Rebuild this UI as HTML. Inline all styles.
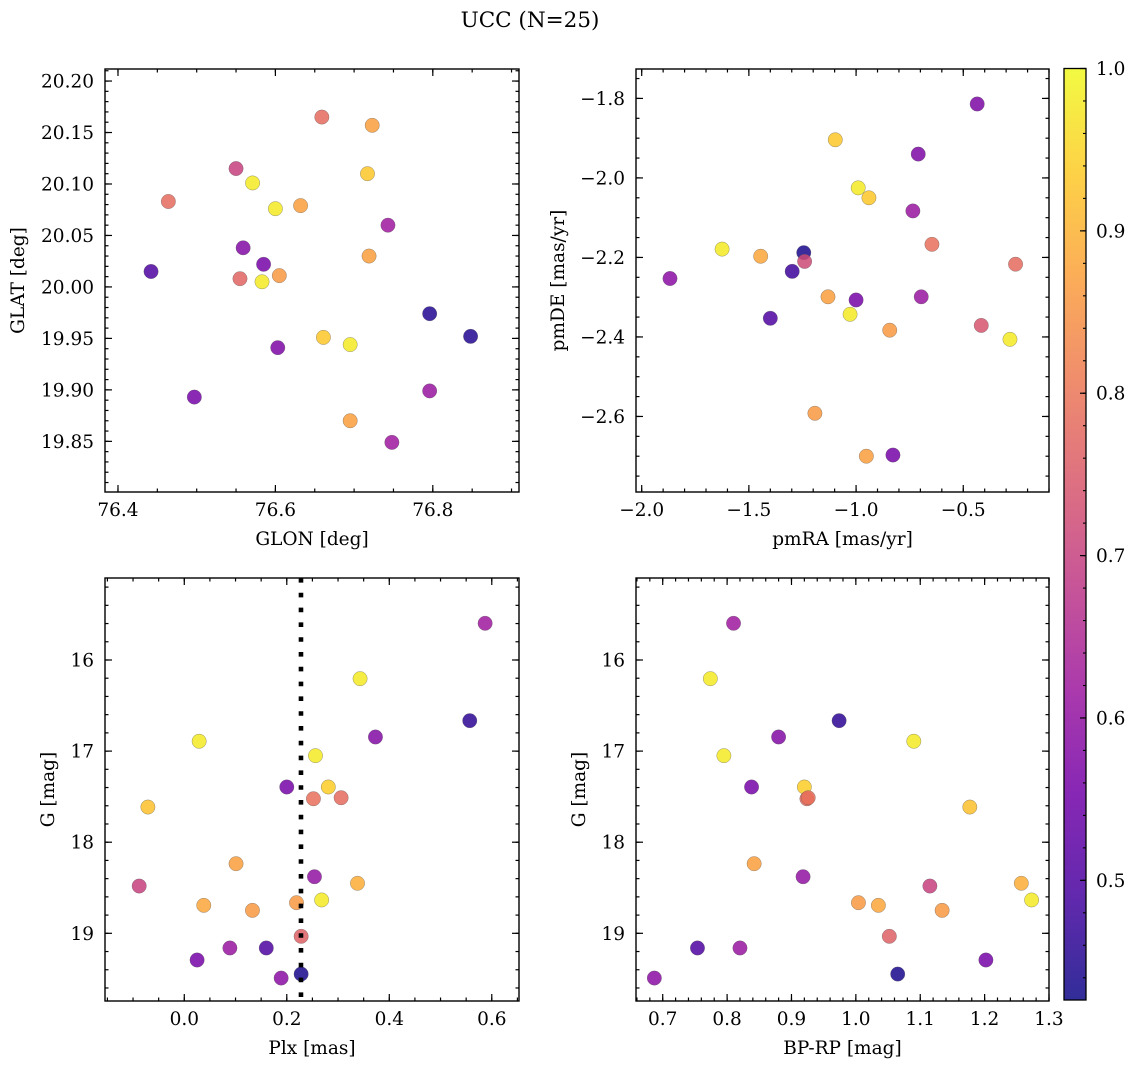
<!DOCTYPE html>
<html><head><meta charset="utf-8"><style>
html,body{margin:0;padding:0;background:#fff;}
svg{display:block;font-family:"DejaVu Serif","Liberation Serif",serif;}
</style></head><body>
<svg id="fig" width="1136" height="1068" viewBox="0 0 1136 1068" xmlns="http://www.w3.org/2000/svg">
<defs>
<linearGradient id="plasma" x1="0" y1="1" x2="0" y2="0"></linearGradient>
</defs>
<text x="530" y="27" font-size="21.5" text-anchor="middle">UCC (N=25)</text>
</svg>
<script>
// ---- data ----
const glon = [76.659,76.723,76.550,76.717,76.571,76.464,76.600,76.632,76.743,76.559,76.719,76.442,76.585,76.605,76.555,76.583,76.796,76.848,76.603,76.661,76.695,76.497,76.796,76.695,76.748];
const glat = [20.165,20.157,20.115,20.110,20.101,20.083,20.076,20.079,20.060,20.038,20.030,20.015,20.022,20.011,20.008,20.005,19.974,19.952,19.941,19.951,19.944,19.893,19.899,19.870,19.849];
const probA = [0.78,0.87,0.70,0.93,0.98,0.78,0.98,0.87,0.62,0.58,0.87,0.50,0.56,0.86,0.77,0.98,0.45,0.45,0.57,0.93,0.98,0.56,0.61,0.87,0.62];

const pmra = [-0.435,-1.097,-0.710,-0.990,-0.940,-0.735,-0.646,-1.625,-1.445,-1.244,-1.240,-0.256,-1.868,-1.298,-1.131,-1.000,-0.696,-1.400,-1.028,-0.843,-0.416,-0.282,-1.192,-0.952,-0.828];
const pmde = [-1.814,-1.904,-1.940,-2.025,-2.050,-2.083,-2.167,-2.179,-2.197,-2.188,-2.210,-2.217,-2.253,-2.235,-2.299,-2.307,-2.299,-2.353,-2.343,-2.383,-2.371,-2.406,-2.592,-2.700,-2.697];
const probB = [0.57,0.93,0.57,0.98,0.93,0.61,0.79,0.98,0.88,0.44,0.72,0.78,0.59,0.48,0.87,0.56,0.61,0.50,0.98,0.86,0.74,0.98,0.86,0.87,0.56];

const plx = [0.587,0.343,0.557,0.373,0.029,0.256,0.200,0.281,0.252,0.306,-0.071,0.101,-0.088,0.254,0.338,0.038,0.219,0.268,0.133,0.228,0.089,0.160,0.025,0.189,0.228];
const gmagC = [15.597,16.205,16.666,16.845,16.892,17.050,17.394,17.394,17.523,17.512,17.614,18.236,18.481,18.379,18.451,18.693,18.664,18.634,18.748,19.033,19.161,19.161,19.293,19.491,19.447];
const probC = [0.62,0.98,0.46,0.58,0.98,0.98,0.56,0.94,0.79,0.78,0.92,0.87,0.70,0.60,0.89,0.88,0.86,0.98,0.86,0.76,0.61,0.50,0.56,0.59,0.44];
const plxLine = [0.2277];

const bprp = [0.810,0.774,0.974,0.880,1.090,0.795,0.838,0.920,0.924,0.926,1.177,0.842,0.918,1.115,1.257,1.004,1.035,1.273,1.134,1.052,0.754,0.820,1.202,0.687,1.065];
const gmagD = [15.597,16.205,16.666,16.845,16.892,17.050,17.394,17.394,17.523,17.512,17.614,18.236,18.379,18.481,18.451,18.664,18.693,18.634,18.748,19.033,19.161,19.161,19.293,19.491,19.447];
const probD = [0.62,0.98,0.46,0.58,0.98,0.98,0.56,0.94,0.78,0.79,0.92,0.87,0.60,0.70,0.89,0.86,0.88,0.98,0.86,0.76,0.50,0.61,0.56,0.59,0.44];

const cbTicks = [0.5,0.6,0.7,0.8,0.9,1.0];
const CMIN = 0.4263, CMAX = 1.0;

// ---- helpers ----
const NS = "http://www.w3.org/2000/svg";
const svg = document.getElementById('fig');
const FS = 18.5;
const plasmaStops = ["#0d0887","#46039f","#7201a8","#9c179e","#bd3786","#d8576b","#ed7953","#fb9f3a","#fdca26","#f0f921"];
function hex(h){return [parseInt(h.slice(1,3),16),parseInt(h.slice(3,5),16),parseInt(h.slice(5,7),16)];}
function plasma(t){
  t=Math.max(0,Math.min(1,t));
  const f=t*(plasmaStops.length-1), i=Math.min(Math.floor(f),plasmaStops.length-2), r=f-i;
  const a=hex(plasmaStops[i]), b=hex(plasmaStops[i+1]);
  return `rgb(${Math.round(a[0]+(b[0]-a[0])*r)},${Math.round(a[1]+(b[1]-a[1])*r)},${Math.round(a[2]+(b[2]-a[2])*r)})`;
}
function mk(tag, attrs, parent){
  const e=document.createElementNS(NS,tag);
  for(const k in attrs) e.setAttribute(k,attrs[k]);
  (parent||svg).appendChild(e); return e;
}
function fmt(v,d){ const s=v.toFixed(d); return v<0? "\u2212"+s.slice(1):s; }
function ticks(min,max,step){ const out=[]; const s=Math.ceil(min/step-1e-9); for(let i=s;i*step<=max+1e-9;i++) out.push(+(i*step).toFixed(6)); return out; }

const grad=document.getElementById('plasma');
plasmaStops.forEach((c,i)=>{ mk('stop',{offset:(i/(plasmaStops.length-1)),'stop-color':c,'stop-opacity':0.85},grad); });

function panel(o){
  const g=mk('g',{});
  
  
  const sx=v=>o.x0+(v-o.xmin)/(o.xmax-o.xmin)*(o.x1-o.x0);
  const sy=o.yinv ? (v=>o.y0+(v-o.ymin)/(o.ymax-o.ymin)*(o.y1-o.y0)) : (v=>o.y1-(v-o.ymin)/(o.ymax-o.ymin)*(o.y1-o.y0));
  const tg=mk('g',{stroke:'#000','stroke-width':1.2},g);
  ticks(o.xmin,o.xmax,o.xminor).forEach(v=>{const x=sx(v);
    mk('line',{x1:x,y1:o.y1,x2:x,y2:o.y1-3.5},tg); mk('line',{x1:x,y1:o.y0,x2:x,y2:o.y0+3.5},tg);});
  ticks(o.ymin,o.ymax,o.yminor).forEach(v=>{const y=sy(v);
    mk('line',{x1:o.x0,y1:y,x2:o.x0+3.5,y2:y},tg); mk('line',{x1:o.x1,y1:y,x2:o.x1-3.5,y2:y},tg);});
  ticks(o.xmin,o.xmax,o.xmajor).forEach(v=>{const x=sx(v);
    mk('line',{x1:x,y1:o.y1,x2:x,y2:o.y1-7},tg); mk('line',{x1:x,y1:o.y0,x2:x,y2:o.y0+7},tg);
    const t=mk('text',{x:x,y:o.y1+24,'font-size':FS,'text-anchor':'middle'},g); t.textContent=fmt(v,o.xd);
    
    });
  ticks(o.ymin,o.ymax,o.ymajor).forEach(v=>{const y=sy(v);
    mk('line',{x1:o.x0,y1:y,x2:o.x0+7,y2:y},tg); mk('line',{x1:o.x1,y1:y,x2:o.x1-7,y2:y},tg);
    const t=mk('text',{x:o.x0-11,y:y+6.5,'font-size':FS,'text-anchor':'end'},g); t.textContent=fmt(v,o.yd);
    
    });
  o.xs.forEach((xv,i)=>{
    const c=mk('circle',{cx:sx(xv),cy:sy(o.ys[i]),r:7.2,fill:plasma((o.ps[i]-CMIN)/(CMAX-CMIN)),'fill-opacity':0.85,stroke:'#555','stroke-opacity':0.6,'stroke-width':0.5},g);
    
    
  });
  if(o.vline){ o.vline.forEach(v=>{ const l=mk('line',{x1:sx(v),y1:o.y0,x2:sx(v),y2:o.y1,stroke:'#000','stroke-width':4.6,'stroke-dasharray':'4.6 10.2'},g);
    
     }); }
  mk('rect',{x:o.x0,y:o.y0,width:o.x1-o.x0,height:o.y1-o.y0,fill:'none',stroke:'#000','stroke-width':1.4},g);
  const xl=mk('text',{x:(o.x0+o.x1)/2,y:o.y1+53,'font-size':FS,'text-anchor':'middle'},g); xl.textContent=o.xlabel;
  
  
  const ly=(o.y0+o.y1)/2;
  const yl=mk('text',{x:o.ylx,y:ly,'font-size':FS,'text-anchor':'middle',transform:`rotate(-90 ${o.ylx} ${ly})`},g); yl.textContent=o.ylabel;
  
  
}

panel({name:'glon-glat-panel',x0:105,x1:519,y0:69,y1:492,xmin:76.3835,xmax:76.9095,ymin:19.8008,ymax:20.2117,
  xmajor:0.2,xminor:0.05,ymajor:0.05,yminor:0.01,xd:1,yd:2,xs:glon,ys:glat,ps:probA,xlabel:'GLON [deg]',ylabel:'GLAT [deg]',ylx:24});
panel({name:'pmra-pmde-panel',x0:636,x1:1049,y0:69,y1:492,xmin:-2.0266,xmax:-0.100,ymin:-2.790,ymax:-1.726,
  xmajor:0.5,xminor:0.1,ymajor:0.2,yminor:0.05,xd:1,yd:1,xs:pmra,ys:pmde,ps:probB,xlabel:'pmRA [mas/yr]',ylabel:'pmDE [mas/yr]',ylx:564});
panel({name:'plx-g-panel',x0:105,x1:519,y0:578,y1:1001,xmin:-0.1547,xmax:0.6531,ymin:15.1,ymax:19.743,yinv:true,
  xmajor:0.2,xminor:0.05,ymajor:1,yminor:0.2,xd:1,yd:0,xs:plx,ys:gmagC,ps:probC,vline:plxLine,xlabel:'Plx [mas]',ylabel:'G [mag]',ylx:54});
panel({name:'bprp-g-panel',x0:636,x1:1049,y0:578,y1:1001,xmin:0.6585,xmax:1.3,ymin:15.1,ymax:19.743,yinv:true,
  xmajor:0.1,xminor:0.02,ymajor:1,yminor:0.2,xd:1,yd:0,xs:bprp,ys:gmagD,ps:probD,xlabel:'BP-RP [mag]',ylabel:'G [mag]',ylx:585});

const cb=mk('g',{});


const cbx0=1064,cbx1=1086,cby0=68.5,cby1=1000;
const cy=v=>cby1-(v-CMIN)/(CMAX-CMIN)*(cby1-cby0);
mk('rect',{x:cbx0,y:cby0,width:cbx1-cbx0,height:cby1-cby0,fill:'url(#plasma)'},cb);
ticks(CMIN,CMAX,0.02).forEach(v=>{mk('line',{x1:cbx1,y1:cy(v),x2:cbx1-3,y2:cy(v),stroke:'#000','stroke-width':1.1},cb);});
cbTicks.forEach(v=>{
  mk('line',{x1:cbx1,y1:cy(v),x2:cbx1-6,y2:cy(v),stroke:'#000','stroke-width':1.2},cb);
  const t=mk('text',{x:cbx1+10,y:cy(v)+6.5,'font-size':FS},cb); t.textContent=v.toFixed(1);
  
  
});
mk('rect',{x:cbx0,y:cby0,width:cbx1-cbx0,height:cby1-cby0,fill:'none',stroke:'#000','stroke-width':1.3},cb);
</script>
</body></html>
